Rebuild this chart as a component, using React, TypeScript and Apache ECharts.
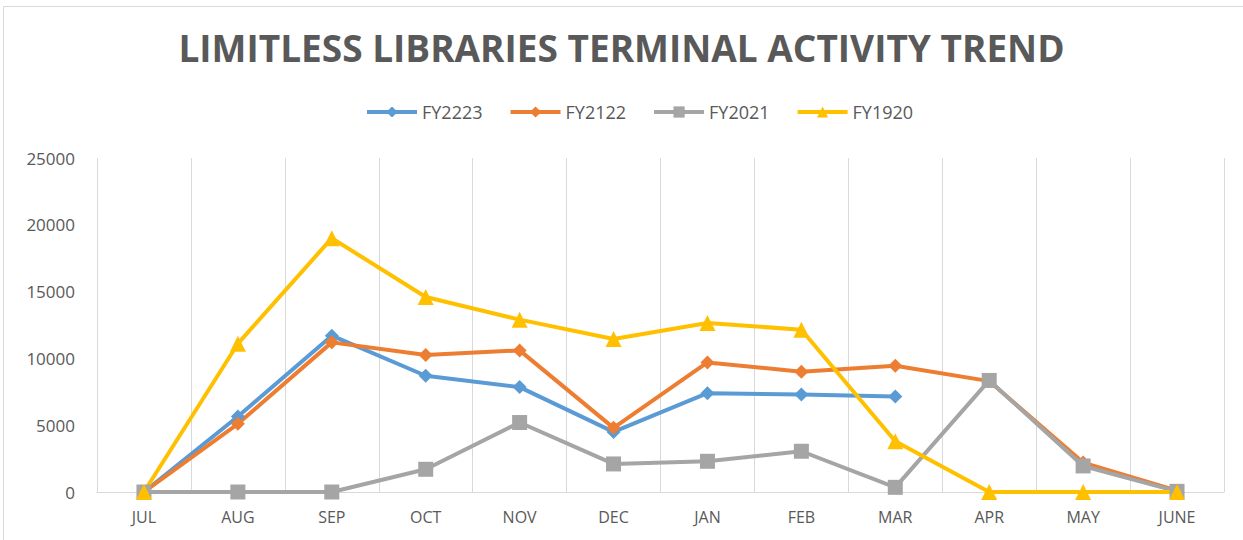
import React, { useEffect, useRef } from "react";
import * as echarts from "echarts";

const TITLE = "LIMITLESS LIBRARIES TERMINAL ACTIVITY TREND";
const months = ["JUL", "AUG", "SEP", "OCT", "NOV", "DEC", "JAN", "FEB", "MAR", "APR", "MAY", "JUNE"];
const yTicks = { min: 0, max: 25000, interval: 5000 };

const fy2223 = [0, 5650, 11700, 8700, 7850, 4500, 7400, 7300, 7150, null, null, null];
const fy2122 = [0, 5100, 11200, 10250, 10600, 4800, 9700, 9000, 9450, 8300, 2200, 100];
const fy2021 = [0, 0, 0, 1700, 5200, 2100, 2300, 3050, 350, 8350, 1950, 50];
const fy1920 = [0, 11100, 19000, 14600, 12900, 11450, 12650, 12150, 3800, 0, 0, 0];

const seriesDefs = [
  { name: "FY2223", data: fy2223, color: "#5B9BD5", symbol: "diamond", size: 14 },
  { name: "FY2122", data: fy2122, color: "#ED7D31", symbol: "diamond", size: 14 },
  { name: "FY2021", data: fy2021, color: "#A5A5A5", symbol: "rect", size: 15 },
  { name: "FY1920", data: fy1920, color: "#FFC000", symbol: "triangle", size: 16 },
];

export default function App() {
  const ref = useRef<HTMLDivElement>(null);
  useEffect(() => {
    if (!ref.current) return;
    const chart = echarts.init(ref.current, undefined, { renderer: "svg" });
    chart.setOption({
      animation: false,
      backgroundColor: "#ffffff",
      textStyle: { fontFamily: "Open Sans" },
      title: {
        text: TITLE,
        left: "center",
        top: 24,
        textStyle: { fontFamily: "Open Sans", fontWeight: "bold", fontSize: 37, color: "#595959" },
      },
      legend: {
        top: 98,
        left: 360,
        itemWidth: 50,
        itemHeight: 14,
        itemGap: 26,
        textStyle: { fontSize: 18, color: "#595959" },
        lineStyle: { width: 4 },
        data: seriesDefs.map((s) => s.name),
      },
      graphic: [
        { type: "line", shape: { x1: 3.5, y1: 6.5, x2: 1243, y2: 6.5 }, style: { stroke: "#d9d9d9", lineWidth: 1 } },
        { type: "line", shape: { x1: 3.5, y1: 6.5, x2: 3.5, y2: 540 }, style: { stroke: "#d9d9d9", lineWidth: 1 } },
      ],
      grid: { left: 97, right: 19, top: 158, bottom: 48, containLabel: false },
      xAxis: {
        type: "category",
        data: months,
        boundaryGap: true,
        axisLine: { show: true, lineStyle: { color: "#d9d9d9", width: 1 } },
        axisTick: { show: false },
        splitLine: { show: true, lineStyle: { color: "#d9d9d9", width: 1 } },
        axisLabel: { color: "#595959", fontSize: 16, margin: 17 },
      },
      yAxis: {
        type: "value",
        min: yTicks.min,
        max: yTicks.max,
        interval: yTicks.interval,
        axisLine: { show: false },
        axisTick: { show: false },
        splitLine: { show: false },
        axisLabel: { color: "#595959", fontSize: 17, margin: 22, formatter: (v: number) => String(v) },
      },
      series: seriesDefs.map((s) => ({
        name: s.name,
        type: "line",
        data: s.data,
        symbol: s.symbol,
        symbolSize: s.size,
        showAllSymbol: true,
        connectNulls: false,
        itemStyle: { color: s.color },
        lineStyle: { color: s.color, width: 4 },
      })),
    });
    return () => chart.dispose();
  }, []);
  return <div ref={ref} style={{ position: "fixed", left: 0, top: 0, width: 1243, height: 540 }} />;
}
